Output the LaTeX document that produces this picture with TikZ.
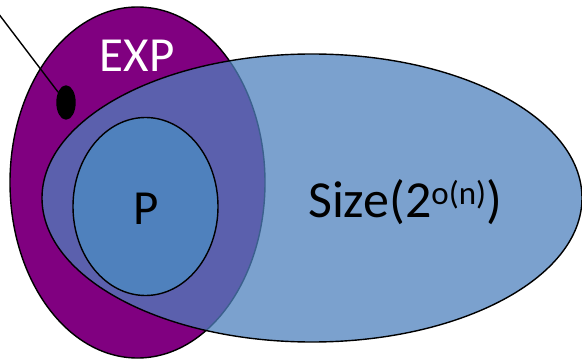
\documentclass[tikz,border=0pt]{standalone}
\usepackage{fontspec}
\setmainfont{Carlito}
\usetikzlibrary{shapes.geometric}
\definecolor{exppurple}{RGB}{128,0,128}
\definecolor{setblue}{RGB}{79,129,189}
\begin{document}
\begin{tikzpicture}[x=1pt,y=-1pt,
  setshape/.style={ellipse, draw=black, line width=1.4pt, inner sep=0pt},
  biglabel/.style={font=\fontsize{49}{50}\selectfont, inner sep=0pt}]
\useasboundingbox (0,0) rectangle (582,361);
% EXP class
\node[setshape, fill=exppurple, minimum width=255pt, minimum height=351pt] (exp) at (137.5,182.5) {};
% Size(2^{o(n)}) class, translucent over EXP
\node[setshape, fill=setblue, fill opacity=0.75, minimum width=540pt, minimum height=288pt] (size) at (312,198) {};
% P class
\node[setshape, fill=setblue, minimum width=145pt, minimum height=178pt] (p) at (145.5,206.5) {};
% marked point with pointer
\node[setshape, fill=black, minimum width=18pt, minimum height=33pt] (dot) at (66,102.5) {};
\coordinate (tail) at (-2,13);
\draw[line width=1.4pt] (tail) -- (dot);
% labels
\node[biglabel, text=white, anchor=base] (explabel) at (137,72) {EXP};
\node[biglabel, anchor=base] (plabel) at (146,225) {P};
\node[biglabel, font=\fontsize{52}{54}\selectfont, anchor=base west] (sizelabel) at (308,217)
  {Size(2{\fontsize{33}{33}\selectfont\raisebox{13pt}{o(n)}})};
\end{tikzpicture}
\end{document}
